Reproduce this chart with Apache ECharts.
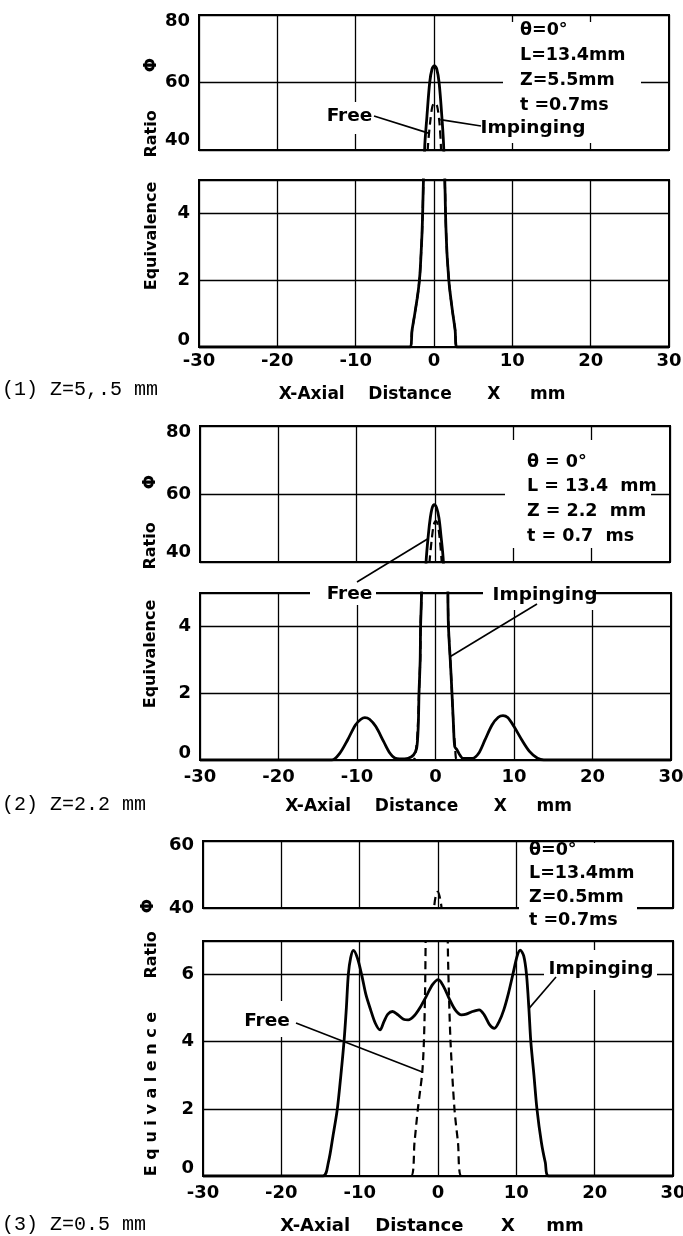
<!DOCTYPE html>
<html>
<head>
<meta charset="utf-8">
<script src="https://cdn.jsdelivr.net/npm/echarts@6/dist/echarts.min.js"></script>
<style>
  html, body { margin: 0; padding: 0; background: #fff; }
  #main { width: 683px; height: 1236px; }
</style>
</head>
<body>
<div id="main"></div>
<script>
// axis ticks
var xTicks = [-30, -20, -10, 0, 10, 20, 30];
var yTicksTop = [40, 60, 80];
var yTicksTop3 = [40, 60];
var yTicksLow = [0, 2, 4];
var yTicksLow3 = [0, 2, 4, 6];

// (1) Z = 5.5 mm
var p1FreeX = [-30, -3.1, -2.8, -2.45, -2.15, -1.95, -1.79, -1.65, -1.53, -1.45, -1.39, -1.35, -0.8, -0.5, -0.2, 0.1, 0.4, 0.7, 0.9, 1.38, 1.42, 1.47, 1.55, 1.66, 1.8, 1.95, 2.15, 2.4, 2.7, 2.91, 30];
var p1FreeY = [0, 0, 0.5, 1.0, 1.45, 1.8, 2.2, 2.8, 3.4, 4.0, 4.6, 5, 40, 48, 53, 54, 53, 48, 40, 5, 4.6, 4.0, 3.4, 2.8, 2.3, 1.85, 1.45, 1.0, 0.5, 0, 0];
var p1ImpX = [-30, -3.1, -2.8, -2.45, -2.15, -1.95, -1.79, -1.65, -1.53, -1.45, -1.39, -1.35, -1.2, -0.9, -0.55, -0.25, 0.05, 0.35, 0.65, 1.0, 1.25, 1.38, 1.42, 1.47, 1.55, 1.66, 1.8, 1.95, 2.15, 2.4, 2.7, 2.91, 30];
var p1ImpY = [0, 0, 0.5, 1.0, 1.45, 1.8, 2.2, 2.8, 3.4, 4.0, 4.6, 5, 40, 50, 60, 64, 65, 64, 60, 50, 40, 5, 4.6, 4.0, 3.4, 2.8, 2.3, 1.85, 1.45, 1.0, 0.5, 0, 0];

// (2) Z = 2.2 mm
var p2FreeX = [-30, -2.9, -2.5, -2.25, -2.1, -1.95, -1.9, -1.78, -0.7, -0.4, -0.15, 0.1, 0.35, 0.6, 0.85, 1.58, 1.65, 1.88, 2.1, 2.3, 2.5, 2.75, 30];
var p2FreeY = [0, 0, 0.3, 1.0, 2, 3, 4, 5, 40, 47, 51, 52, 51, 47, 40, 5, 4, 3, 2, 1.0, 0.4, 0, 0];
var p2ImpX = [-30, -13.2, -12.2, -11.2, -10.2, -9.5, -9.0, -8.4, -7.6, -6.6, -5.8, -5.2, -4.6, -3.5, -2.8, -2.4, -2.2, -2.1, -1.95, -1.9, -1.78, -1.14, -0.85, -0.6, -0.35, -0.1, 0.2, 0.5, 0.75, 1.07, 1.58, 1.65, 1.88, 2.1, 2.3, 2.45, 2.75, 3.1, 3.5, 4.7, 5.5, 6.3, 7.2, 8.0, 8.6, 9.2, 10.0, 11.0, 12.0, 13.0, 13.8, 30];
var p2ImpY = [0, 0, 0.2, 0.6, 1.05, 1.22, 1.27, 1.22, 1.0, 0.55, 0.2, 0.06, 0.03, 0.05, 0.15, 0.35, 1.0, 2, 3, 4, 5, 40, 48, 53, 56, 56.9, 56, 53, 48, 40, 5, 4, 3, 2, 1.0, 0.4, 0.3, 0.15, 0.05, 0.05, 0.2, 0.6, 1.05, 1.28, 1.33, 1.27, 1.0, 0.6, 0.25, 0.05, 0, 0];

// (3) Z = 0.5 mm
var p3FreeX = [-30, -3.44, -3.0, -2.57, -2.25, -2.0, -1.8, -1.65, -1.58, -0.5, -0.3, -0.05, 0.2, 0.45, 1.25, 1.33, 1.6, 2.1, 2.55, 3.0, 30];
var p3FreeY = [0, 0, 1.0, 2, 2.6, 3.1, 4, 5.5, 7, 40, 43.5, 44.8, 43.5, 40, 7, 6, 4, 2, 1, 0, 0];
var p3ImpX = [-30, -14.7, -14.0, -13.4, -12.85, -12.4, -12.0, -11.7, -11.45, -11.15, -10.8, -10.3, -9.75, -9.2, -8.6, -8.0, -7.4, -6.9, -6.4, -5.8, -5.1, -4.4, -3.8, -3.0, -2.2, -1.5, -0.7, 0.05, 0.7, 1.4, 2.2, 3.0, 3.6, 4.4, 5.25, 5.9, 6.6, 7.2, 7.8, 8.4, 9.0, 9.6, 10.1, 10.5, 10.95, 11.3, 11.6, 11.85, 12.25, 12.63, 13.2, 13.7, 14.15, 30];
var p3ImpY = [0, 0, 0.4, 1.2, 2, 3, 4, 5, 6, 6.5, 6.72, 6.5, 6.0, 5.4, 4.95, 4.55, 4.35, 4.6, 4.82, 4.9, 4.8, 4.67, 4.65, 4.78, 5.05, 5.35, 5.7, 5.85, 5.65, 5.3, 4.95, 4.8, 4.82, 4.9, 4.95, 4.8, 4.5, 4.4, 4.6, 4.95, 5.45, 6.05, 6.55, 6.73, 6.55, 6.0, 5.0, 4, 3, 2, 1, 0.4, 0, 0];

var p1Params = ['θ=0°', 'L=13.4mm', 'Z=5.5mm', 't =0.7ms'];
var p2Params = ['θ = 0°', 'L = 13.4  mm', 'Z = 2.2  mm', 't = 0.7  ms'];
var p3Params = ['θ=0°', 'L=13.4mm', 'Z=0.5mm', 't =0.7ms'];
var panelNames = ['(1) Z=5,.5 mm', '(2) Z=2.2 mm', '(3) Z=0.5 mm'];

var F = 'DejaVu Sans';
var chart = echarts.init(document.getElementById('main'));

// [left, top, width, height] for each plot box
var boxes = [
    [199, 15, 470, 135], [199, 180, 470, 167],
    [200, 426, 470, 136], [200, 593, 471, 167],
    [203, 841, 470, 67], [203, 941, 470, 235]
];
var yRanges = [
    [yTicksTop, 80], [yTicksLow, 5],
    [yTicksTop, 80], [yTicksLow, 5],
    [yTicksTop3, 60], [yTicksLow3, 7]
];
// label nudges (px, + = down) for bottom and top labels
var yShift = [[-10, 6], [-7, 0], [-10, 6], [-7, 0], [0, 4], [-8, 0]];

var grids = boxes.map(function (b) {
    return {left: b[0], top: b[1], width: b[2], height: b[3], show: true,
        borderColor: '#000', borderWidth: 2, backgroundColor: 'transparent',
        containLabel: false, outerBoundsMode: 'none'};
});

var splitStyle = {show: true, lineStyle: {color: '#000', width: 1.3}};

var xAxes = boxes.map(function (b, i) {
    var low = i % 2 === 1;
    var p = Math.floor(i / 2);
    return {
        type: 'value', gridIndex: i,
        min: xTicks[0], max: xTicks[xTicks.length - 1], interval: xTicks[1] - xTicks[0],
        axisLine: {show: false}, axisTick: {show: false}, splitLine: splitStyle,
        axisLabel: {show: low, color: '#000', fontFamily: F, fontWeight: 'bold', fontSize: 18, margin: p === 0 ? 5 : 8},
        name: low ? 'X-Axial    Distance      X     mm' : '',
        nameLocation: 'middle',
        nameGap: [39, 38, 41][p],
        nameTextStyle: {color: '#000', fontFamily: F, fontWeight: 'bold', fontSize: p === 2 ? 18 : 17,
            padding: [0, [24, 14, 12][p], 0, 0]}
    };
});

var yAxes = boxes.map(function (b, i) {
    var ticks = yRanges[i][0];
    var lo = ticks[0], hi = yRanges[i][1];
    var sh = yShift[i];
    var base = {color: '#000', fontFamily: F, fontWeight: 'bold', fontSize: 18};
    return {
        type: 'value', gridIndex: i,
        min: lo, max: hi, interval: ticks[1] - ticks[0],
        axisLine: {show: false}, axisTick: {show: false}, splitLine: splitStyle,
        axisLabel: {
            color: '#000', fontFamily: F, fontWeight: 'bold', fontSize: 18, margin: 9,
            showMaxLabel: ticks[ticks.length - 1] === hi,
            formatter: function (v) {
                if (v === lo) return '{lo|' + v + '}';
                if (v === hi) return '{hi|' + v + '}';
                return '' + v;
            },
            rich: {
                lo: Object.assign({padding: [0, 0, -sh[0] * 2, 0]}, base),
                hi: Object.assign({padding: [sh[1] * 2, 0, 0, 0]}, base)
            }
        }
    };
});

var series = [];
function addCurve(panel, name, xs, ys, dashed) {
    var data = xs.map(function (x, i) { return [x, ys[i]]; });
    [0, 1].forEach(function (k) {
        series.push({
            type: 'line', name: name, data: data,
            xAxisIndex: panel * 2 + k, yAxisIndex: panel * 2 + k,
            showSymbol: false, symbol: 'none', smooth: 0.3, clip: true, silent: true,
            lineStyle: {color: '#000', width: dashed ? 2.2 : 2.8, type: dashed ? [8, 5] : 'solid'},
            z: dashed ? 3 : 4
        });
    });
}
addCurve(0, 'Free', p1FreeX, p1FreeY, true);
addCurve(0, 'Impinging', p1ImpX, p1ImpY, false);
addCurve(1, 'Free', p2FreeX, p2FreeY, true);
addCurve(1, 'Impinging', p2ImpX, p2ImpY, false);
addCurve(2, 'Free', p3FreeX, p3FreeY, true);
addCurve(2, 'Impinging', p3ImpX, p3ImpY, false);

chart.setOption({
    animation: false,
    backgroundColor: '#fff',
    grid: grids,
    xAxis: xAxes,
    yAxis: yAxes,
    series: series
});

// annotations
var g = [];
function box(x, y, w, h) {
    g.push({type: 'rect', shape: {x: x, y: y, width: w, height: h}, style: {fill: '#fff'}, z: 10, silent: true});
}
function label(x, y, s, size, opt) {
    opt = opt || {};
    g.push({type: 'text', x: x, y: y, rotation: opt.rot || 0, z: 12, silent: true,
        style: {text: s, fill: '#000', fontFamily: opt.font || F, fontSize: size,
            fontWeight: opt.font ? 'normal' : 'bold',
            align: opt.align || 'center', verticalAlign: 'middle'}});
}
function params(x, y0, lines, lh, size) {
    lines.forEach(function (s, i) { label(x, y0 + i * lh, s, size, {align: 'left'}); });
}

// parameter blocks
box(503, 22, 138, 121);
params(520, 30, p1Params, 25, 17.5);
box(505, 440, 146, 108);
params(527, 462, p2Params, 24.7, 17.5);
box(519, 843, 118, 93);
params(529, 850, p3Params, 23.5, 17.5);

// curve labels
box(322, 102, 55, 32); label(349.5, 116, 'Free', 18.5);
box(477, 114, 112, 28); label(533, 128, 'Impinging', 18.5);
box(310, 582, 66, 23); label(349.5, 594, 'Free', 18.5);
box(483, 581, 111, 29); label(545, 595, 'Impinging', 18.5);
box(240, 1001, 55, 36); label(267, 1021, 'Free', 18.5);
box(544, 950, 113, 40); label(601, 969, 'Impinging', 18.5);

// y-axis titles
var R = Math.PI / 2;
label(152, 65, 'Φ', 17, {rot: R});
label(152, 134, 'Ratio', 16, {rot: R});
label(152, 236, 'Equivalence', 16, {rot: R});
label(151, 482, 'Φ', 17, {rot: R});
label(151, 546, 'Ratio', 16, {rot: R});
label(151, 654, 'Equivalence', 16, {rot: R});
label(149, 906, 'Φ', 17, {rot: R});
label(152, 955, 'Ratio', 16, {rot: R});
label(152, 1094, 'E q u i v a l e n c e', 16, {rot: R});

// panel captions
label(2, 390, panelNames[0], 20, {align: 'left', font: 'Liberation Mono'});
label(2, 805, panelNames[1], 20, {align: 'left', font: 'Liberation Mono'});
label(2, 1225, panelNames[2], 20, {align: 'left', font: 'Liberation Mono'});

// leader lines: label end in px, curve end in data units
var leaders = [
    {from: [374, 116], grid: 0, at: [-0.7, 45]},
    {from: [481, 126], grid: 0, at: [0.8, 49]},
    {from: [357, 582], grid: 2, at: [-0.8, 47]},
    {from: [537, 604], grid: 3, at: [1.9, 3.1]},
    {from: [296, 1023], grid: 5, at: [-2.0, 3.1]},
    {from: [556, 977], grid: 5, at: [11.65, 5.0]}
];
leaders.forEach(function (l) {
    var p = chart.convertToPixel({gridIndex: l.grid}, l.at);
    g.push({type: 'line', z: 13, silent: true,
        shape: {x1: l.from[0], y1: l.from[1], x2: p[0], y2: p[1]},
        style: {stroke: '#000', lineWidth: 1.6}});
});

chart.setOption({graphic: g});
</script>
</body>
</html>
